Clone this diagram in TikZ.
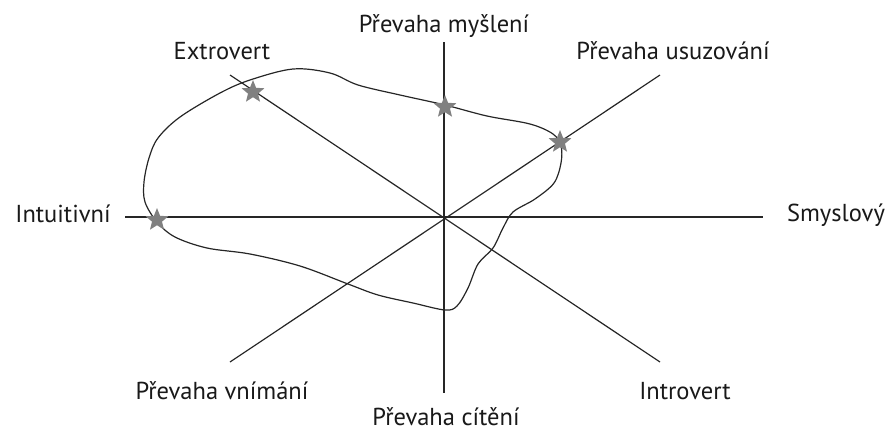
\documentclass[tikz,border=0pt]{standalone}
\usepackage{fontspec}
\setmainfont{PT Sans}
\usepackage{tikz}
\usetikzlibrary{shapes.geometric}

\tikzset{
  axis/.style={draw=black!85, line width=1.2pt},
  lbl/.style={anchor=base, inner sep=0pt, font=\fontsize{24.5}{28}\selectfont, text=black!90},
  mark star/.style={star, star points=5, star point ratio=2.3, minimum size=24pt,
    inner sep=0pt, fill=black!50, draw=none},
}

\begin{document}
\begin{tikzpicture}[x=1pt, y=-1pt]
\useasboundingbox (0,0) rectangle (888,432);

% popisky os
\node[lbl] (myslenilbl) at (444,32) {Převaha myšlení};
\node[lbl] (citenilbl) at (446,425) {Převaha cítění};
\node[lbl] (intuitlbl) at (63,222) {Intuitivní};
\node[lbl] (smyslylbl) at (836,221) {Smyslový};
\node[lbl] (extrolbl) at (222,59) {Extrovert};
\node[lbl] (introlbl) at (685,399) {Introvert};
\node[lbl] (usuzlbl) at (673,59) {Převaha usuzování};
\node[lbl] (vnimlbl) at (222,399) {Převaha vnímání};

% konce os
\coordinate (c) at (444,217);
\coordinate (top) at (444,42);
\coordinate (bot) at (444,393);
\coordinate (lft) at (125,217);
\coordinate (rgt) at (763,217);
\coordinate (ext) at (230,75);
\coordinate (intr) at (660,362);
\coordinate (usz) at (660,75);
\coordinate (vnm) at (230,362);

\draw[axis] (top) -- (bot);
\draw[axis] (lft) -- (rgt);
\draw[axis] (ext) -- (intr);
\draw[axis] (usz) -- (vnm);

% profil
\draw[black!85, line width=1.2pt] plot[smooth cycle, tension=0.55] coordinates {
  (157,222) (145,202) (144,182) (149,158) (158,138) (180,117) (220,93) (250,80)
  (293,69) (330,73) (358,85) (400,95) (445,105) (487,116) (530,124) (553,134)
  (561,146) (561,163) (554,183) (535,199) (513,212) (503,228) (493,248)
  (478,264) (468,288) (457,306) (445,310) (413,303) (378,295) (348,284)
  (300,266) (250,254) (207,248) (175,237)
};

% hvezdicky
\node[mark star] (sE) at (253,92) {};
\node[mark star] (sM) at (445,107) {};
\node[mark star] (sU) at (560,142) {};
\node[mark star] (sI) at (157,220) {};
\end{tikzpicture}
\end{document}
